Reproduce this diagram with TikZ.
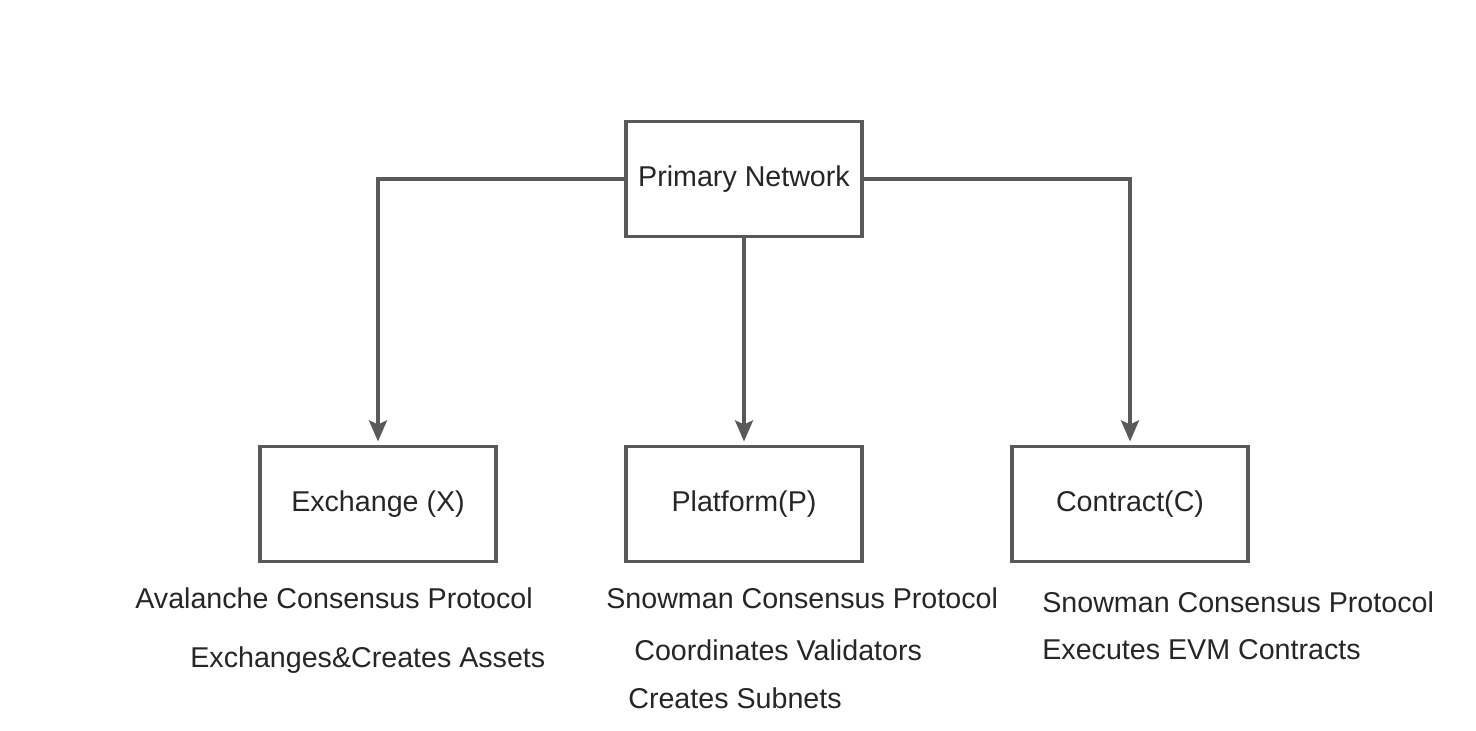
\documentclass[tikz,border=0pt]{standalone}
\usepackage{fontspec}
\setmainfont{Liberation Sans}
\usepackage{xcolor}
\usetikzlibrary{arrows.meta,positioning,calc}
\definecolor{edge}{HTML}{595959}
\definecolor{ink}{HTML}{262626}

\begin{document}
\begin{tikzpicture}[x=0.02cm,y=-0.02cm,>={Stealth[length=4.2mm,width=3.6mm,inset=0.8mm]},
   font=\fontsize{16.3}{20}\selectfont,
   box/.style={draw=edge,line width=1.8pt,minimum width=4.72cm,minimum height=2.3cm,inner sep=0pt,text=ink},
   link/.style={draw=edge,line width=1.8pt,->,shorten >=2pt},
   note/.style={anchor=west,inner sep=0pt,text=ink}]
  \useasboundingbox (0,0) rectangle (1476,730);
  \node[box] (pn) at (744,179) {Primary Network};
  \node[box] (ex) at (378,504) {Exchange (X)};
  \node[box] (pl) at (744,504) {Platform(P)};
  \node[box] (co) at (1130,504) {Contract(C)};
  \draw[link] (pn.west) -| (ex.north);
  \draw[link] (pn.south) -- (pl.north);
  \draw[link] (pn.east) -| (co.north);
  % notes under the boxes
  \node[note] (ex1) at (135,598) {Avalanche Consensus Protocol};
  \node[note] (ex2) at (190,660) {Exchanges\&Creates Assets};
  \node[note] (pl1) at (606,598) {Snowman Consensus Protocol};
  \node[note] (pl2) at (634,650) {Coordinates Validators};
  \node[note] (pl3) at (628,698) {Creates Subnets};
  \node[note] (co1) at (1042,602) {Snowman Consensus Protocol};
  \node[note] (co2) at (1042,650) {Executes EVM Contracts};
\end{tikzpicture}
\end{document}
